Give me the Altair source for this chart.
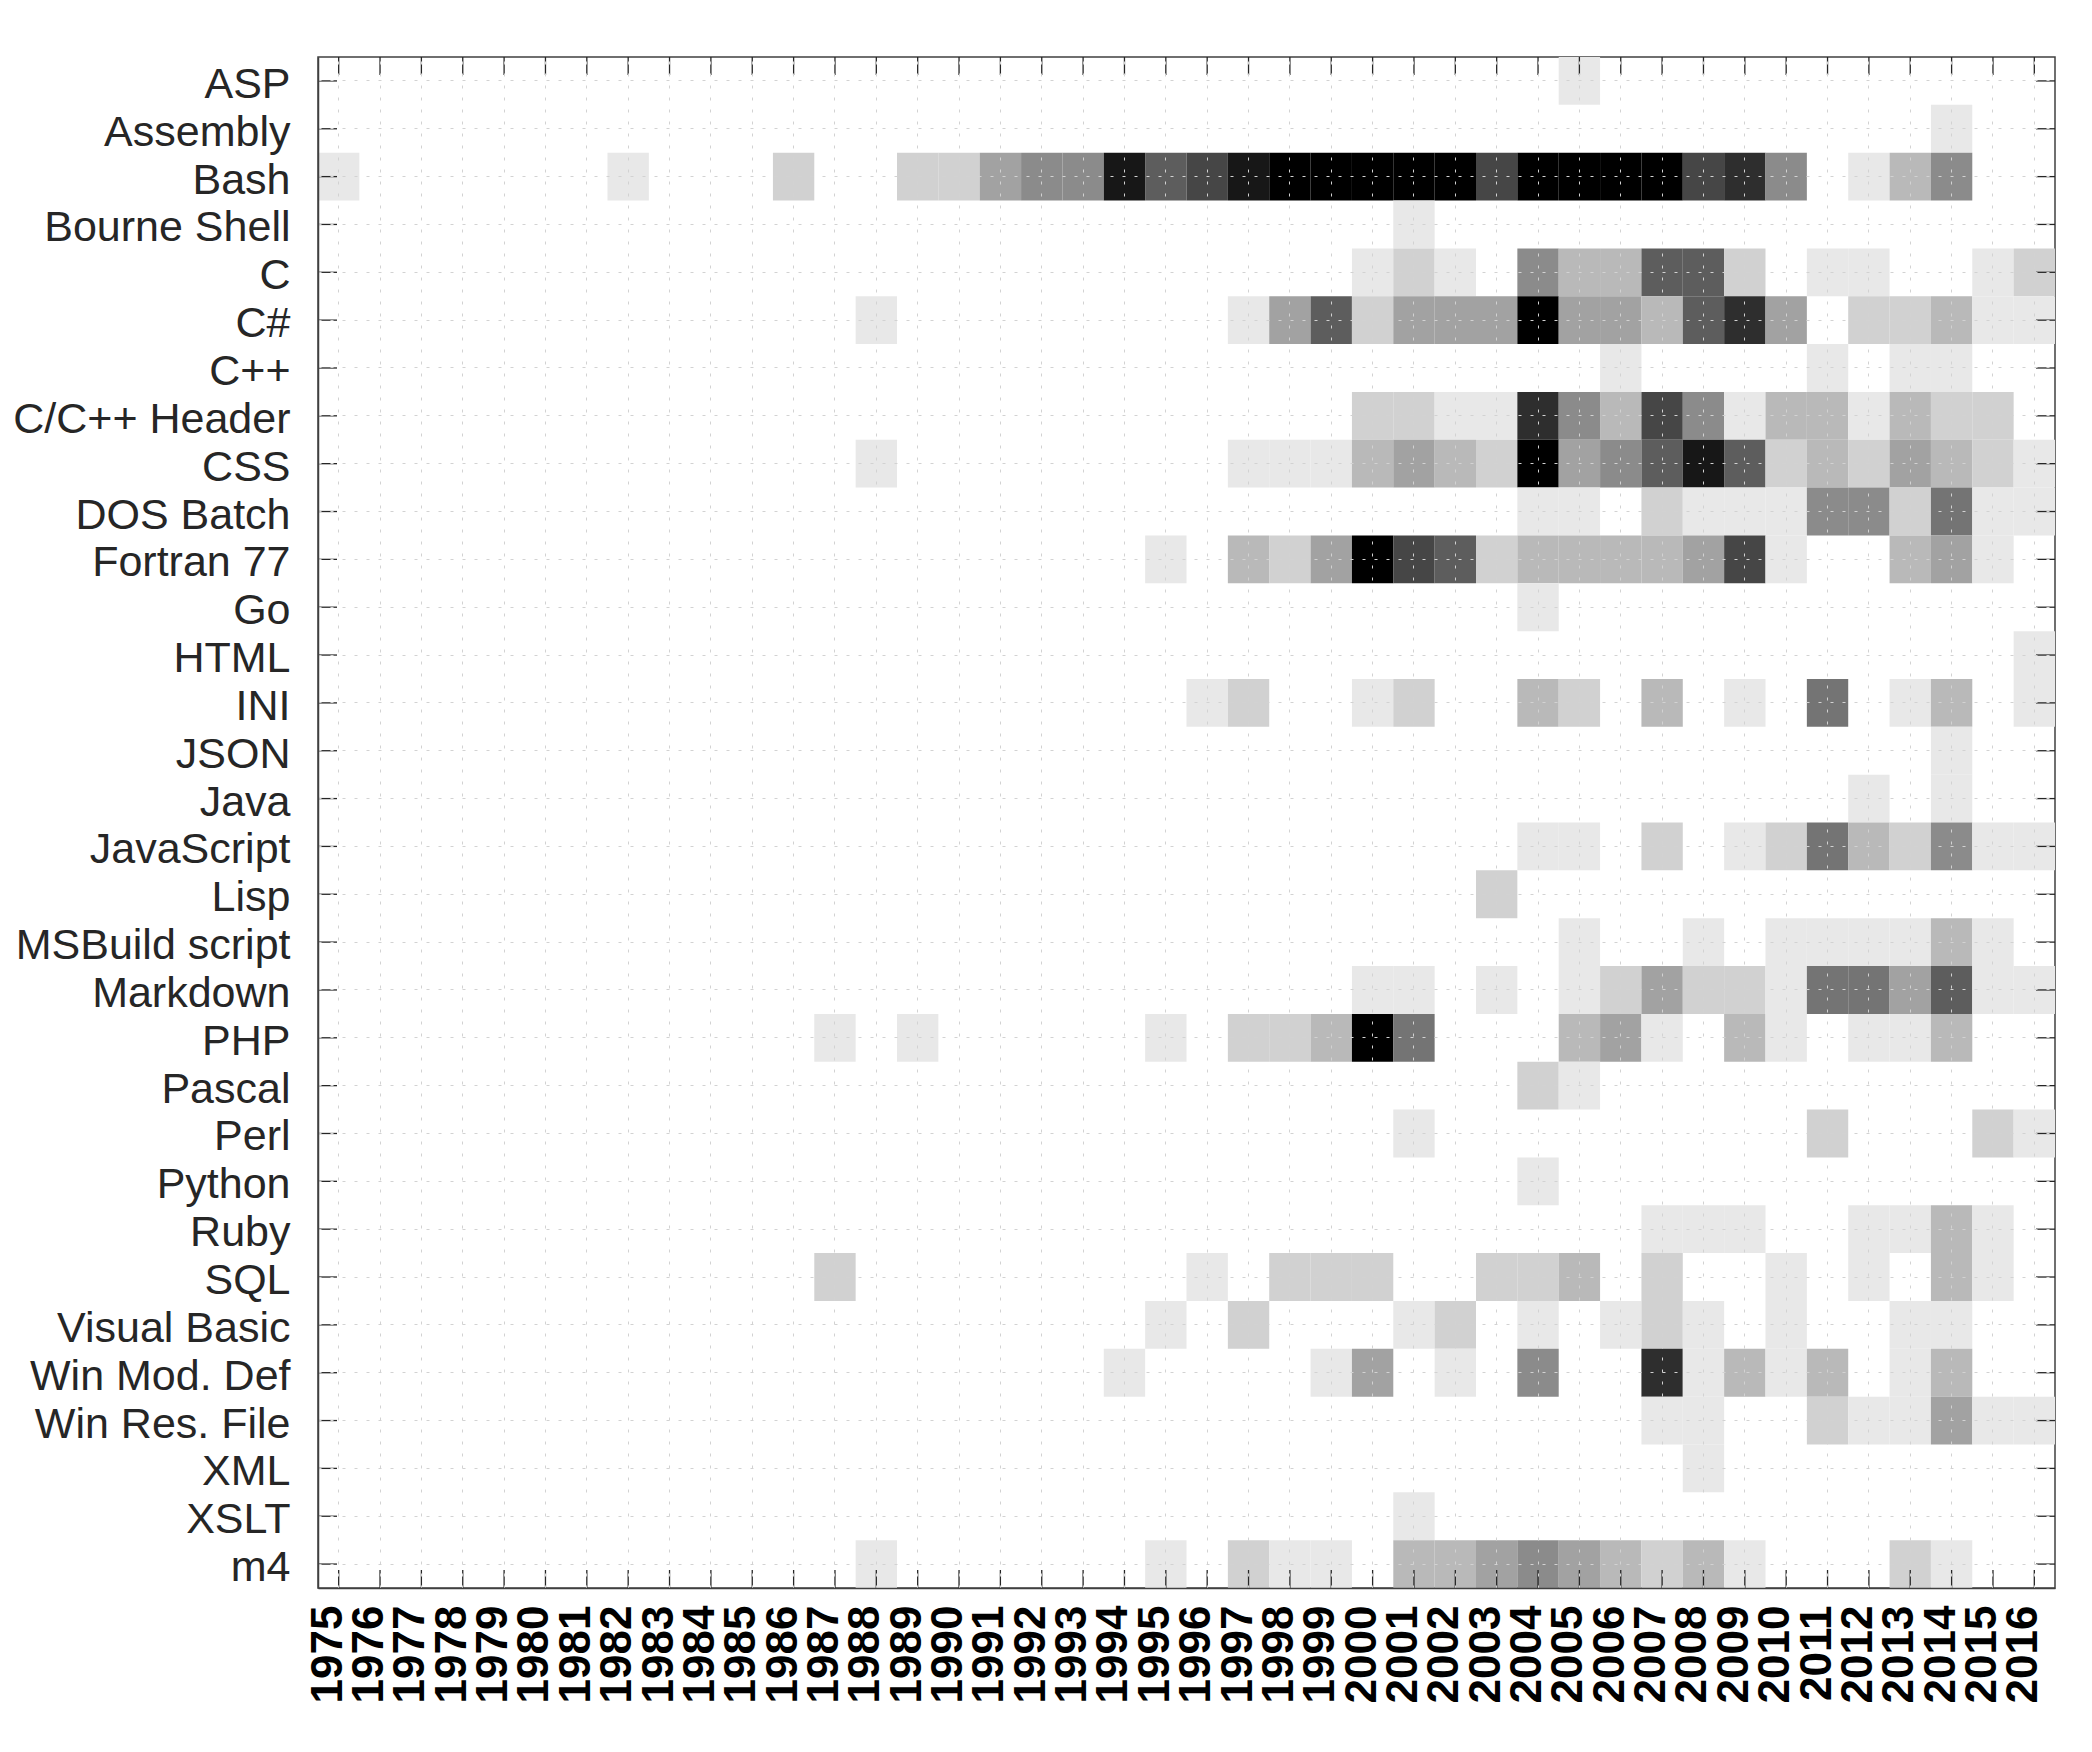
import altair as alt
import pandas as pd

YEARS = list(range(1975, 2017))

LANGUAGES = [
    "ASP", "Assembly", "Bash", "Bourne Shell", "C", "C#", "C++", "C/C++ Header",
    "CSS", "DOS Batch", "Fortran 77", "Go", "HTML", "INI", "JSON", "Java",
    "JavaScript", "Lisp", "MSBuild script", "Markdown", "PHP", "Pascal", "Perl",
    "Python", "Ruby", "SQL", "Visual Basic", "Win Mod. Def", "Win Res. File",
    "XML", "XSLT", "m4",
]

# activity level per year (1975 ... 2016), 0 = none, 11 = maximum
ASP          = [0,0,0,0,0,0,0,0,0,0, 0,0,0,0,0,0,0,0,0,0, 0,0,0,0,0,0,0,0,0,0, 1,0,0,0,0,0,0,0,0,0, 0,0]
ASSEMBLY     = [0,0,0,0,0,0,0,0,0,0, 0,0,0,0,0,0,0,0,0,0, 0,0,0,0,0,0,0,0,0,0, 0,0,0,0,0,0,0,0,0,1, 0,0]
BASH         = [1,0,0,0,0,0,0,1,0,0, 0,2,0,0,2,2,4,5,5,10, 7,8,10,11,11,11,11,11,8,11, 11,11,11,8,9,5,0,1,3,5, 0,0]
BOURNE       = [0,0,0,0,0,0,0,0,0,0, 0,0,0,0,0,0,0,0,0,0, 0,0,0,0,0,0,1,0,0,0, 0,0,0,0,0,0,0,0,0,0, 0,0]
C_LANG       = [0,0,0,0,0,0,0,0,0,0, 0,0,0,0,0,0,0,0,0,0, 0,0,0,0,0,1,2,1,0,5, 3,3,7,7,2,0,1,1,0,0, 1,2]
CSHARP       = [0,0,0,0,0,0,0,0,0,0, 0,0,0,1,0,0,0,0,0,0, 0,0,1,4,7,2,4,4,4,11, 4,4,3,7,9,4,0,2,2,3, 1,1]
CPP          = [0,0,0,0,0,0,0,0,0,0, 0,0,0,0,0,0,0,0,0,0, 0,0,0,0,0,0,0,0,0,0, 0,1,0,0,0,0,1,0,1,1, 0,0]
CHEADER      = [0,0,0,0,0,0,0,0,0,0, 0,0,0,0,0,0,0,0,0,0, 0,0,0,0,0,2,2,1,1,9, 5,3,8,5,1,3,3,1,3,2, 2,0]
CSS          = [0,0,0,0,0,0,0,0,0,0, 0,0,0,1,0,0,0,0,0,0, 0,0,1,1,1,3,4,3,2,11, 4,5,7,10,7,2,3,2,4,3, 2,1]
DOS_BATCH    = [0,0,0,0,0,0,0,0,0,0, 0,0,0,0,0,0,0,0,0,0, 0,0,0,0,0,0,0,0,0,1, 1,0,2,1,1,1,5,5,2,6, 1,1]
FORTRAN77    = [0,0,0,0,0,0,0,0,0,0, 0,0,0,0,0,0,0,0,0,0, 1,0,3,2,4,11,8,7,2,3, 3,3,3,4,8,1,0,0,3,4, 1,0]
GO           = [0,0,0,0,0,0,0,0,0,0, 0,0,0,0,0,0,0,0,0,0, 0,0,0,0,0,0,0,0,0,1, 0,0,0,0,0,0,0,0,0,0, 0,0]
HTML         = [0,0,0,0,0,0,0,0,0,0, 0,0,0,0,0,0,0,0,0,0, 0,0,0,0,0,0,0,0,0,0, 0,0,0,0,0,0,0,0,0,0, 0,1]
INI          = [0,0,0,0,0,0,0,0,0,0, 0,0,0,0,0,0,0,0,0,0, 0,1,2,0,0,1,2,0,0,3, 2,0,3,0,1,0,6,0,1,3, 0,1]
JSON         = [0,0,0,0,0,0,0,0,0,0, 0,0,0,0,0,0,0,0,0,0, 0,0,0,0,0,0,0,0,0,0, 0,0,0,0,0,0,0,0,0,1, 0,0]
JAVA         = [0,0,0,0,0,0,0,0,0,0, 0,0,0,0,0,0,0,0,0,0, 0,0,0,0,0,0,0,0,0,0, 0,0,0,0,0,0,0,1,0,1, 0,0]
JAVASCRIPT   = [0,0,0,0,0,0,0,0,0,0, 0,0,0,0,0,0,0,0,0,0, 0,0,0,0,0,0,0,0,0,1, 1,0,2,0,1,2,6,3,2,5, 1,1]
LISP         = [0,0,0,0,0,0,0,0,0,0, 0,0,0,0,0,0,0,0,0,0, 0,0,0,0,0,0,0,0,2,0, 0,0,0,0,0,0,0,0,0,0, 0,0]
MSBUILD      = [0,0,0,0,0,0,0,0,0,0, 0,0,0,0,0,0,0,0,0,0, 0,0,0,0,0,0,0,0,0,0, 1,0,0,1,0,1,1,1,1,3, 1,0]
MARKDOWN     = [0,0,0,0,0,0,0,0,0,0, 0,0,0,0,0,0,0,0,0,0, 0,0,0,0,0,1,1,0,1,0, 1,2,4,2,2,1,6,6,4,7, 1,1]
PHP          = [0,0,0,0,0,0,0,0,0,0, 0,0,1,0,1,0,0,0,0,0, 1,0,2,2,3,11,6,0,0,0, 3,4,1,0,3,1,0,1,1,3, 0,0]
PASCAL       = [0,0,0,0,0,0,0,0,0,0, 0,0,0,0,0,0,0,0,0,0, 0,0,0,0,0,0,0,0,0,2, 1,0,0,0,0,0,0,0,0,0, 0,0]
PERL         = [0,0,0,0,0,0,0,0,0,0, 0,0,0,0,0,0,0,0,0,0, 0,0,0,0,0,0,1,0,0,0, 0,0,0,0,0,0,2,0,0,0, 2,1]
PYTHON       = [0,0,0,0,0,0,0,0,0,0, 0,0,0,0,0,0,0,0,0,0, 0,0,0,0,0,0,0,0,0,1, 0,0,0,0,0,0,0,0,0,0, 0,0]
RUBY         = [0,0,0,0,0,0,0,0,0,0, 0,0,0,0,0,0,0,0,0,0, 0,0,0,0,0,0,0,0,0,0, 0,0,1,1,1,0,0,1,1,3, 1,0]
SQL          = [0,0,0,0,0,0,0,0,0,0, 0,0,2,0,0,0,0,0,0,0, 0,1,0,2,2,2,0,0,2,2, 3,0,2,0,0,1,0,1,0,3, 1,0]
VISUAL_BASIC = [0,0,0,0,0,0,0,0,0,0, 0,0,0,0,0,0,0,0,0,0, 1,0,2,0,0,0,1,2,0,1, 0,1,2,1,0,1,0,0,1,1, 0,0]
WIN_MOD_DEF  = [0,0,0,0,0,0,0,0,0,0, 0,0,0,0,0,0,0,0,0,1, 0,0,0,0,1,4,0,1,0,5, 0,0,9,1,3,1,3,0,1,3, 0,0]
WIN_RES_FILE = [0,0,0,0,0,0,0,0,0,0, 0,0,0,0,0,0,0,0,0,0, 0,0,0,0,0,0,0,0,0,0, 0,0,1,1,0,0,2,1,1,4, 1,1]
XML          = [0,0,0,0,0,0,0,0,0,0, 0,0,0,0,0,0,0,0,0,0, 0,0,0,0,0,0,0,0,0,0, 0,0,0,1,0,0,0,0,0,0, 0,0]
XSLT         = [0,0,0,0,0,0,0,0,0,0, 0,0,0,0,0,0,0,0,0,0, 0,0,0,0,0,0,1,0,0,0, 0,0,0,0,0,0,0,0,0,0, 0,0]
M4           = [0,0,0,0,0,0,0,0,0,0, 0,0,0,1,0,0,0,0,0,0, 1,0,2,1,1,0,3,3,4,5, 4,3,2,3,1,0,0,0,2,1, 0,0]

SERIES = [
    ASP, ASSEMBLY, BASH, BOURNE, C_LANG, CSHARP, CPP, CHEADER, CSS, DOS_BATCH,
    FORTRAN77, GO, HTML, INI, JSON, JAVA, JAVASCRIPT, LISP, MSBUILD, MARKDOWN,
    PHP, PASCAL, PERL, PYTHON, RUBY, SQL, VISUAL_BASIC, WIN_MOD_DEF,
    WIN_RES_FILE, XML, XSLT, M4,
]

YEAR_LABELS = [str(y) for y in YEARS]

records = []
for lang, vals in zip(LANGUAGES, SERIES):
    for yr, v in zip(YEAR_LABELS, vals):
        if v > 0:
            records.append({"language": lang, "year": yr, "level": v})
cells = pd.DataFrame(records)
years_df = pd.DataFrame({"year": YEAR_LABELS})
langs_df = pd.DataFrame({"language": LANGUAGES})

W, H = 1737, 1531
TICK = 18
AXIS_COLOR = "#262626"
GRID_COLOR = "#d2d2d2"

xscale = alt.Scale(type="band", domain=YEAR_LABELS, paddingInner=0, paddingOuter=0)
yscale = alt.Scale(type="band", domain=LANGUAGES, paddingInner=0, paddingOuter=0)

xaxis = alt.Axis(
    title=None, labelAngle=270, labelAlign="right", labelBaseline="middle",
    labelFontSize=44, labelFontWeight="bold", labelColor="#000000",
    labelPadding=17, labelOffset=-10, labelOverlap=False,
    ticks=False, tickSize=0, domain=True, domainColor="#404040", domainWidth=1.5,
    grid=True, gridDash=[3, 9], gridColor=GRID_COLOR, gridWidth=1,
    bandPosition=0.5, zindex=1,
)
yaxis = alt.Axis(
    title=None, labelFontSize=43, labelColor=AXIS_COLOR, labelPadding=28,
    labelOffset=4, labelOverlap=False, labelLimit=500,
    ticks=False, tickSize=0, domain=True, domainColor="#404040", domainWidth=1.5,
    grid=True, gridDash=[3, 9], gridColor=GRID_COLOR, gridWidth=1,
    bandPosition=0.5, zindex=1,
)

heat = alt.Chart(cells).mark_rect().encode(
    x=alt.X("year:O", scale=xscale, axis=xaxis),
    y=alt.Y("language:N", scale=yscale, axis=yaxis),
    color=alt.Color(
        "level:Q",
        scale=alt.Scale(domain=[0, 11], range=["#ffffff", "#000000"], interpolate="rgb"),
        legend=None,
    ),
)

rule_style = dict(color=AXIS_COLOR, strokeWidth=1.3)

top_ticks = alt.Chart(years_df).mark_rule(**rule_style).encode(
    x=alt.X("year:O", scale=xscale, axis=xaxis, bandPosition=0.5),
    y=alt.value(0), y2=alt.value(TICK),
)
bottom_ticks = alt.Chart(years_df).mark_rule(**rule_style).encode(
    x=alt.X("year:O", scale=xscale, axis=xaxis, bandPosition=0.5),
    y=alt.value(H - TICK), y2=alt.value(H),
)
left_ticks = alt.Chart(langs_df).mark_rule(**rule_style).encode(
    y=alt.Y("language:N", scale=yscale, axis=yaxis, bandPosition=0.5),
    x=alt.value(0), x2=alt.value(TICK + 1),
)
right_ticks = alt.Chart(langs_df).mark_rule(**rule_style).encode(
    y=alt.Y("language:N", scale=yscale, axis=yaxis, bandPosition=0.5),
    x=alt.value(W - TICK - 1), x2=alt.value(W),
)

chart = (
    alt.layer(heat, top_ticks, bottom_ticks, left_ticks, right_ticks)
    .properties(
        width=W, height=H,
        autosize=alt.AutoSizeParams(type="none"),
        padding={"left": 310, "top": 49, "right": 20, "bottom": 150},
        background="#ffffff",
    )
    .configure_view(stroke="#404040", strokeWidth=1.5)
    .configure_axis(labelFont="Liberation Sans")
)

chart.save("out.html", embed_options={"renderer": "svg", "actions": False})
